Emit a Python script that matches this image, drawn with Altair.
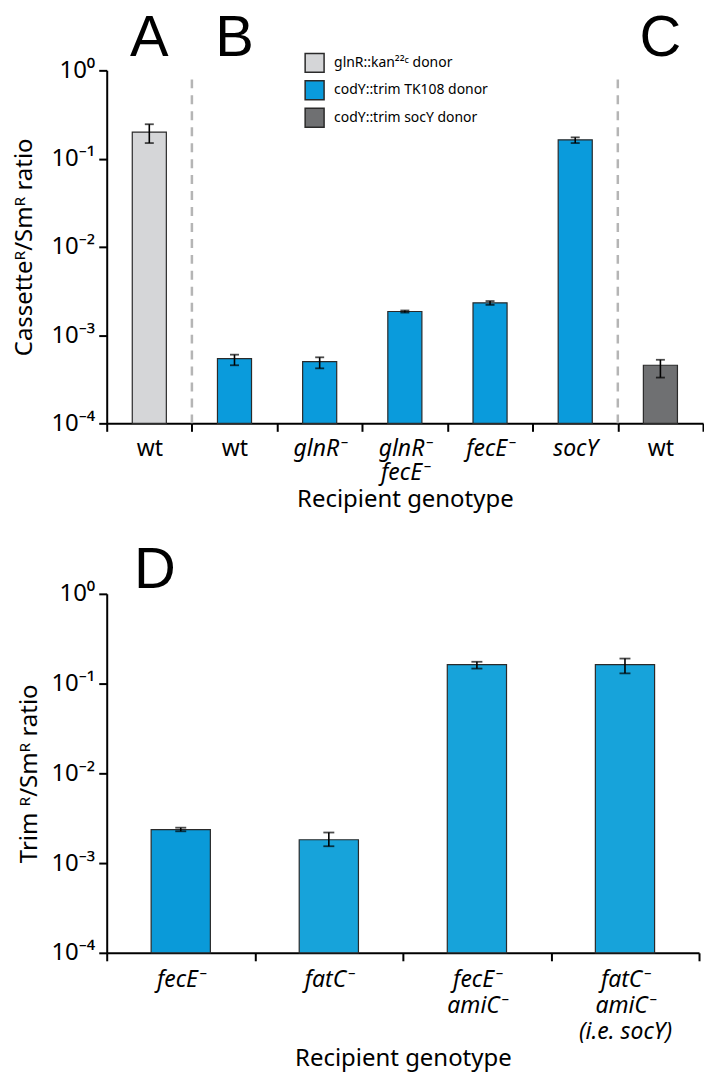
import json
import altair as alt
import pandas as pd

# ---------------- data ----------------
# top panel (A, B, C)
top_idx = [0, 1, 2, 3, 4, 5, 6]
top_labels = [["wt"], ["wt"], ["glnR⁻"], ["glnR⁻", "fecE⁻"], ["fecE⁻"], ["socY"], ["wt"]]
top_upright = [True, True, False, False, False, False, True]
donor_names = ["glnR::kan²²ᶜ donor", "codY::trim TK108 donor", "codY::trim socY donor"]
donor_colors = ["#d5d6d8", "#0a9bdc", "#6f7072"]
top_donor = [donor_names[0], donor_names[1], donor_names[1], donor_names[1],
             donor_names[1], donor_names[1], donor_names[2]]
top_value = [0.200, 5.4e-4, 5.0e-4, 1.85e-3, 2.32e-3, 0.163, 4.55e-4]
top_lo = [0.150, 4.55e-4, 4.2e-4, 1.80e-3, 2.20e-3, 0.150, 3.3e-4]
top_hi = [0.245, 6.0e-4, 5.6e-4, 1.90e-3, 2.43e-3, 0.174, 5.25e-4]
top_separators = [1, 6]
top_letters = ["A", "B", "C"]
top_letter_idx = [0, 1, 6]

# bottom panel (D)
bot_idx = [0, 1, 2, 3]
bot_labels = [["fecE⁻"], ["fatC⁻"], ["fecE⁻", "amiC⁻"], ["fatC⁻", "amiC⁻", "(i.e. socY)"]]
bot_value = [2.36e-3, 1.82e-3, 0.163, 0.163]
bot_lo = [2.26e-3, 1.54e-3, 0.147, 0.130]
bot_hi = [2.48e-3, 2.19e-3, 0.175, 0.190]
bot_colors = ["#0a9ad9", "#17a3da", "#17a3da", "#17a3da"]
bot_letters = ["D"]
bot_letter_idx = [0]

y_tick_values = [1, 0.1, 0.01, 0.001, 0.0001]
y_tick_labels = ["10⁻⁴", "10⁻³", "10⁻²", "10⁻¹", "10⁰"]

# ---------------- frames ----------------
top_df = pd.DataFrame({"idx": top_idx, "donor": top_donor, "value": top_value,
                       "lo": top_lo, "hi": top_hi})
sep_df = pd.DataFrame({"idx": top_separators})
top_let_df = pd.DataFrame({"idx": top_letter_idx, "letter": top_letters})
bot_df = pd.DataFrame({"idx": bot_idx, "value": bot_value, "lo": bot_lo,
                       "hi": bot_hi, "color": bot_colors})
bot_let_df = pd.DataFrame({"idx": bot_letter_idx, "letter": bot_letters})

FONT = "Noto Sans"
ylabel_expr = json.dumps(y_tick_labels, ensure_ascii=False) + "[round(log(datum.value)/LN10)+4]"
yscale = alt.Scale(type="log", domain=[1e-4, 1])
xscale = alt.Scale(paddingInner=0, paddingOuter=0)


def y_axis(title, title_padding):
    return alt.Axis(values=y_tick_values, labelExpr=ylabel_expr, title=title,
                    titlePadding=title_padding, labelPadding=4)


upright_list = [i for i, u in zip(top_idx, top_upright) if u]
top_x_axis = alt.Axis(
    title="Recipient genotype",
    labelExpr=json.dumps(top_labels, ensure_ascii=False) + "[datum.value]",
    labelAngle=0, tickBand="extent", labelBaseline="top", labelLineHeight=24,
    labelPadding=6, titlePadding=3, labelFontSize=23,
    labelFontStyle={"condition": {"test": f"indexof({json.dumps(upright_list)}, datum.value) >= 0",
                                  "value": "normal"}, "value": "italic"},
)
bot_x_axis = alt.Axis(
    title="Recipient genotype",
    labelExpr=json.dumps(bot_labels, ensure_ascii=False) + "[datum.value]",
    labelAngle=0, tickBand="extent", labelBaseline="top", labelLineHeight=26,
    labelPadding=8, titlePadding=3, labelFontStyle="italic", labelFontSize=23,
)

# ---------------- top chart ----------------
tx = alt.X("idx:O", scale=xscale, axis=top_x_axis)
bars_top = alt.Chart(top_df).mark_bar(width={"band": 0.4}, stroke="#2a2a2a", strokeWidth=1.2).encode(
    x=tx,
    y=alt.Y("value:Q", scale=yscale, axis=y_axis("Cassetteᴿ/Smᴿ ratio", 14)),
    y2=alt.datum(1e-4),
    color=alt.Color("donor:N", scale=alt.Scale(domain=donor_names, range=donor_colors),
                    legend=alt.Legend(title=None, orient="none", legendX=198, legendY=-18,
                                      symbolType="square", symbolSize=361,
                                      symbolStrokeColor="#333333", symbolStrokeWidth=1.5,
                                      labelFont=FONT, labelFontSize=14, labelColor="black",
                                      rowPadding=2.5, labelOffset=9, symbolOpacity=1)),
)
err_top = alt.Chart(top_df).mark_rule(color="black", strokeWidth=1.6).encode(
    x="idx:O", y="lo:Q", y2="hi:Q")
cap_lo_top = alt.Chart(top_df).mark_tick(color="black", size=9, thickness=1.8).encode(x="idx:O", y="lo:Q")
cap_hi_top = alt.Chart(top_df).mark_tick(color="black", size=9, thickness=1.8).encode(x="idx:O", y="hi:Q")
seps = alt.Chart(sep_df).mark_rule(color="#b5b5b5", strokeWidth=2.5, strokeDash=[9, 7]).encode(
    x=alt.X("idx:O", bandPosition=0), y=alt.datum(0.79), y2=alt.datum(1e-4))
letters_top = alt.Chart(top_let_df).mark_text(font="Liberation Sans", fontSize=58, baseline="alphabetic",
                                              dy=-14, color="black").encode(
    x="idx:O", y=alt.datum(1), text="letter:N")

top = alt.layer(bars_top, err_top, cap_lo_top, cap_hi_top, seps, letters_top).properties(
    width=598, height=354)

# ---------------- bottom chart ----------------
bx = alt.X("idx:O", scale=xscale, axis=bot_x_axis)
bars_bot = alt.Chart(bot_df).mark_bar(width={"band": 0.4}, stroke="#2a2a2a", strokeWidth=1.2).encode(
    x=bx,
    y=alt.Y("value:Q", scale=yscale, axis=y_axis("Trim ᴿ/Smᴿ ratio", 9)),
    y2=alt.datum(1e-4),
    color=alt.Color("color:N", scale=None),
)
err_bot = alt.Chart(bot_df).mark_rule(color="black", strokeWidth=1.6).encode(x="idx:O", y="lo:Q", y2="hi:Q")
cap_lo_bot = alt.Chart(bot_df).mark_tick(color="black", size=11, thickness=1.8).encode(x="idx:O", y="lo:Q")
cap_hi_bot = alt.Chart(bot_df).mark_tick(color="black", size=11, thickness=1.8).encode(x="idx:O", y="hi:Q")
letters_bot = alt.Chart(bot_let_df).mark_text(font="Liberation Sans", fontSize=58, baseline="alphabetic",
                                              dx=-26, dy=-6, color="black").encode(
    x="idx:O", y=alt.datum(1), text="letter:N")

bottom = alt.layer(bars_bot, err_bot, cap_lo_bot, cap_hi_bot, letters_bot).properties(
    width=594, height=360)

chart = alt.vconcat(top, bottom, spacing=31).properties(
    padding={"left": 5, "top": 1, "right": 0, "bottom": 0}
).configure_view(stroke=None).configure_axis(
    grid=False, domainColor="black", domainWidth=2, tickColor="black", tickWidth=2, tickSize=8,
    labelFont=FONT, labelFontSize=24, labelColor="black",
    titleFont=FONT, titleFontSize=24, titleFontWeight="normal", titleColor="black",
)

chart.save("out.html", embed_options={"renderer": "svg", "actions": False})
